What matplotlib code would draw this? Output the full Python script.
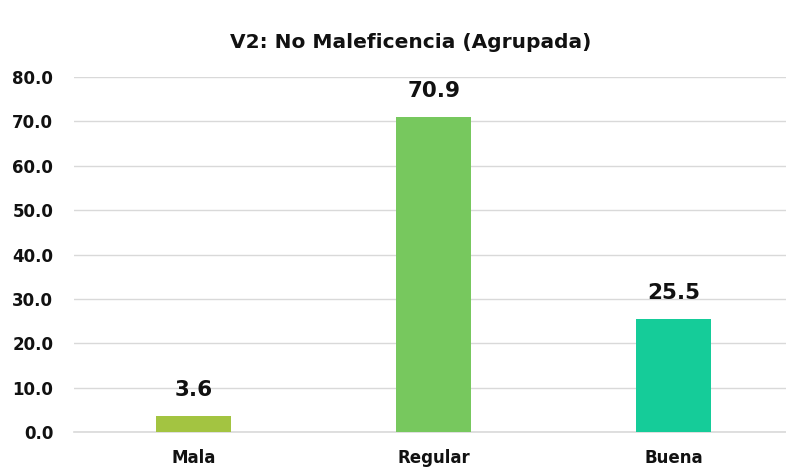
import matplotlib.pyplot as plt

categories = ['Mala', 'Regular', 'Buena']
values = [3.6, 70.9, 25.5]
colors = ['#a3c441', '#77c85e', '#15cc99']
yticks = [0, 10, 20, 30, 40, 50, 60, 70, 80]

plt.rcParams['font.family'] = ['DejaVu Sans']

fig = plt.figure(figsize=(7.86, 4.70), dpi=100)
ax = fig.add_axes([74 / 786, 38 / 470, 720 / 786, 355 / 470])

x = range(len(categories))
bars = ax.bar(x, values, width=75 / 240, color=colors, zorder=3)
for b, v in zip(bars, values):
    ax.text(b.get_x() + b.get_width() / 2, v + 3.6, f'{v:.1f}', ha='center', va='bottom',
            fontsize=15.5, fontweight='bold', color='#111111')

ax.set_xlim(-0.5, 2.5)
ax.set_ylim(0, 80)
ax.set_yticks(yticks)
ax.set_yticklabels([f'{t:.1f}' for t in yticks], fontsize=12, fontweight='bold', color='#111111')
ax.set_xticks(list(x))
ax.set_xticklabels(categories, fontsize=12, fontweight='bold', color='#111111')
ax.tick_params(length=0)
ax.tick_params(axis='y', pad=15)
ax.tick_params(axis='x', pad=12)
ax.grid(axis='y', color='#d9d9d9', linewidth=1, zorder=0)
ax.axhline(0, color='#d9d9d9', linewidth=1.2, zorder=2, clip_on=False)
for s in ax.spines.values():
    s.set_visible(False)

fig.text(0.523, 1 - 42 / 470, 'V2: No Maleficencia (Agrupada)', ha='center', va='center',
         fontsize=14.5, fontweight='bold', color='#111111')

fig.savefig('out.png', dpi=100)
